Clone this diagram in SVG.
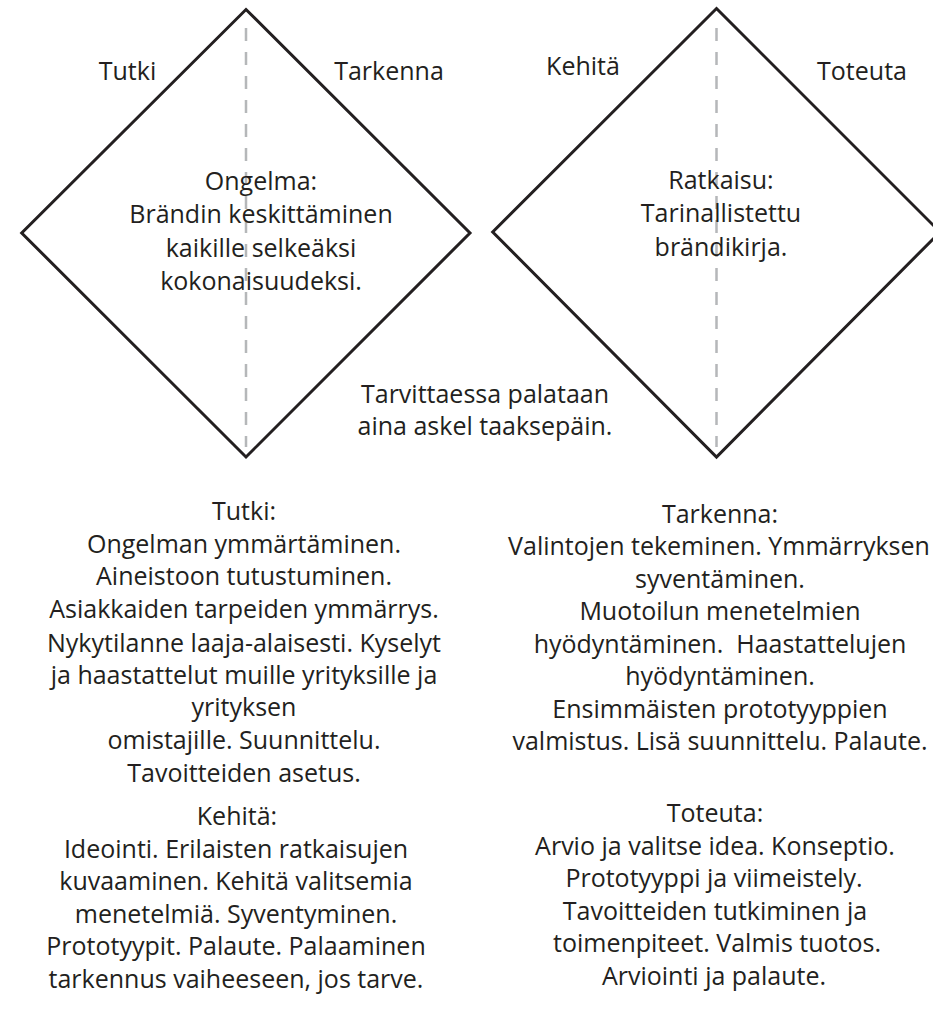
<svg xmlns="http://www.w3.org/2000/svg" width="933" height="1014" viewBox="0 0 933 1014">
<style>
text{font-family:"Open Sans","Noto Sans","Liberation Sans",sans-serif;font-size:25px;fill:#231f20;text-anchor:middle}
.pre{white-space:pre}
.d{fill:#fff;stroke:#231f20;stroke-width:3;stroke-linejoin:miter}
.ax{stroke:#b5b7b9;stroke-width:2.5;stroke-dasharray:13 11;fill:none}
</style>
<rect width="933" height="1014" fill="#fff"/>
<g id="diamond-left">
<polygon class="d" points="246,9.5 470,233 246,457 21.7,233"/>
<line class="ax" x1="246" y1="28" x2="246" y2="447"/>
<text x="261" y="190">Ongelma:</text>
<text x="261" y="223">Brändin keskittäminen</text>
<text x="261" y="257">kaikille selkeäksi</text>
<text x="261" y="290">kokonaisuudeksi.</text>
</g>
<g id="diamond-right">
<polygon class="d" points="716.5,8.5 940,232 716.5,457 492.7,232"/>
<line class="ax" x1="716.5" y1="28" x2="716.5" y2="447"/>
<text x="721" y="189">Ratkaisu:</text>
<text x="721" y="222">Tarinallistettu</text>
<text x="721" y="256">brändikirja.</text>
</g>
<g id="labels">
<text x="127.5" y="80">Tutki</text>
<text x="389" y="80">Tarkenna</text>
<text x="583" y="75">Kehitä</text>
<text x="862" y="80">Toteuta</text>
</g>
<g id="note">
<text x="485" y="403">Tarvittaessa palataan</text>
<text x="485" y="435">aina askel taaksepäin.</text>
</g>
<g id="tutki-desc">
<text x="244" y="520">Tutki:</text>
<text x="244" y="553">Ongelman ymmärtäminen.</text>
<text x="244" y="585">Aineistoon tutustuminen.</text>
<text x="244" y="618">Asiakkaiden tarpeiden ymmärrys.</text>
<text x="244" y="652">Nykytilanne laaja-alaisesti. Kyselyt</text>
<text x="244" y="684">ja haastattelut muille yrityksille ja</text>
<text x="244" y="716">yrityksen</text>
<text x="244" y="749">omistajille. Suunnittelu.</text>
<text x="244" y="782">Tavoitteiden asetus.</text>
</g>
<g id="kehita-desc">
<text x="237" y="825">Kehitä:</text>
<text x="236" y="858">Ideointi. Erilaisten ratkaisujen</text>
<text x="236" y="890">kuvaaminen. Kehitä valitsemia</text>
<text x="236" y="923">menetelmiä. Syventyminen.</text>
<text x="236" y="955">Prototyypit. Palaute. Palaaminen</text>
<text x="236" y="988">tarkennus vaiheeseen, jos tarve.</text>
</g>
<g id="tarkenna-desc">
<text x="720" y="523">Tarkenna:</text>
<text x="719" y="555">Valintojen tekeminen. Ymmärryksen</text>
<text x="720" y="588">syventäminen.</text>
<text x="720" y="620">Muotoilun menetelmien</text>
<text class="pre" x="720" y="653">hyödyntäminen.  Haastattelujen</text>
<text x="720" y="685">hyödyntäminen.</text>
<text x="720" y="718">Ensimmäisten prototyyppien</text>
<text x="720" y="750">valmistus. Lisä suunnittelu. Palaute.</text>
</g>
<g id="toteuta-desc">
<text x="715" y="822">Toteuta:</text>
<text x="715" y="855">Arvio ja valitse idea. Konseptio.</text>
<text x="714" y="887">Prototyyppi ja viimeistely.</text>
<text x="715" y="920">Tavoitteiden tutkiminen ja</text>
<text x="717" y="952">toimenpiteet. Valmis tuotos.</text>
<text x="714" y="985">Arviointi ja palaute.</text>
</g>
</svg>
